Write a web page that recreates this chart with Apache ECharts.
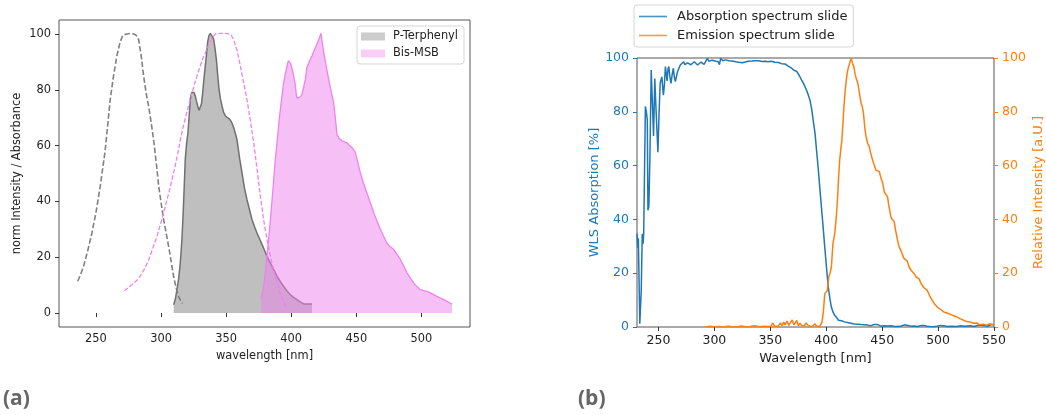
<!DOCTYPE html>
<html>
<head>
<meta charset="utf-8">
<script src="https://cdn.jsdelivr.net/npm/echarts@6/dist/echarts.min.js"></script>
<style>
html,body{margin:0;padding:0;background:#fff;}
#c{width:1046px;height:415px;}
</style>
</head>
<body>
<div id="c"></div>
<script>
// ---------- Panel (a) data ----------
const leftXTicks = [250, 300, 350, 400, 450, 500];
const leftYTicks = [0, 20, 40, 60, 80, 100];
const pTerphenylAbs = [[235.9,11.4],[238,13.5],[240.5,16.8],[243.5,22],[246.9,28.7],[250,36],[253.3,45.5],[257,58],[261,76.6],[263.5,85],[266,92],[268.5,97],[270.7,99.6],[273.8,100],[276.5,100.2],[279,100],[281,99.5],[282.8,98],[284.8,92],[286.6,85],[288.5,79],[290.5,74],[292.5,68],[294.3,62],[296.3,54],[298.2,45.5],[300.2,39],[302,33.5],[304,28.5],[305.8,24],[307.8,18.5],[309.7,13],[311.6,9],[313.5,6],[315,4.5],[316.6,3.4]];
const bisMsbAbs = [[271.8,8],[274.5,9],[277.7,10.2],[281,11.5],[284,13.2],[287.5,16],[290.5,19],[293.5,23],[296.9,27.5],[300,32.5],[303.3,38.3],[306.5,44],[309.7,50.3],[313,57.5],[316,64.7],[319.3,71],[322.5,76.6],[325.7,82],[328.9,86.8],[332,91],[335.3,94.6],[338.5,98],[341.7,100],[345.5,100.2],[349,100.2],[352,100],[354,99.5],[355.8,98],[358.5,94],[360.9,88.6],[363.5,82.5],[366,76.6],[368.6,69],[371.2,61],[373.8,51.5],[376.3,42],[378.8,33.5],[381.4,26.3],[383.3,22],[385.2,18],[387.2,14],[389.1,10.8],[391,7.8],[392.9,5.4],[395,3.3],[396.8,1.8]];
const pTerphenylEm = [[309.7,3],[311,5],[312.2,8.4],[313.6,12.5],[314.8,18],[316,26],[316.9,34.7],[317.8,45],[318.6,55],[319.6,60.5],[320.7,64.7],[321.6,70.5],[322.5,76.6],[323.5,79],[324.5,79.6],[325.4,79],[326.3,77.8],[327.2,76],[328.1,74.3],[329.2,72.7],[330.2,72.5],[331.1,75],[332,79],[333,84],[334,88.6],[335,93],[335.8,97],[336.8,99.4],[337.9,100.2],[339.2,99.5],[340.4,98.2],[341.4,95],[342.5,91],[343.4,86],[344.3,81.4],[345.5,77],[346.8,74.3],[348,72],[349.4,70.7],[351,70],[352.7,69.5],[354.3,68.3],[355.8,66.5],[357,64.5],[358.3,62.3],[360.2,56],[362.2,50.3],[364,45],[366,40.7],[368,37],[369.9,33.5],[371.8,31],[373.7,28.7],[375.6,26.7],[377.6,24.6],[379.5,22.5],[381.4,20.4],[383.3,18.5],[385.2,16.8],[387.2,15],[389.1,13.2],[391.6,11.3],[394.2,9.6],[396.7,8],[399.3,6.6],[401.9,5.6],[404.5,4.8],[406.4,4.2],[408.3,3.6],[410.2,3.2],[412.1,3.2],[414,3.2],[416,3.2]];
const bisMsbEm = [[376.8,5.4],[378,7],[378.8,9.6],[380,14],[381.4,20.4],[383,28],[384.5,36],[386.2,45.5],[387.8,55],[389.5,63],[391.1,70.7],[392.9,77.8],[394.2,82.6],[395.2,85],[396.3,87.4],[397.2,89.5],[398,90.4],[398.9,90],[399.8,89.2],[400.9,87],[401.9,85],[403.1,82],[404,77.8],[404.8,77],[405.7,76.6],[407,77.5],[408.3,78.4],[409.6,81],[410.9,83.8],[412.1,88],[414,90.2],[416,92.2],[417.9,94.3],[419.8,96.4],[421.4,98.3],[422.9,100.2],[424,96.5],[425,93.4],[426.9,88.5],[428.8,83.8],[430.7,79.5],[432.6,75.4],[433.9,70],[435.2,64],[437,62.5],[439,61.7],[441,61.3],[442.9,61],[444.8,60],[446.7,59.3],[448,58.5],[449.3,57.5],[451.2,54],[453.1,50.3],[455.6,46.5],[458.2,43],[460.8,39.5],[463.4,36],[465.9,33],[468.5,30],[471,27.5],[473.6,25],[476.2,23.8],[478.7,22.8],[481.3,21],[483.9,19.2],[486.5,16.8],[489,14.4],[491.5,12.6],[494.1,10.8],[496.7,9.4],[499.2,8.4],[501.8,8],[504.4,7.8],[507,7.2],[509.5,6.6],[512,6],[514.6,5.4],[517.2,4.8],[519.7,4.2],[521.7,3.7],[523.6,3.2]];

// ---------- Panel (b) data ----------
const rightXTicks = [250, 300, 350, 400, 450, 500, 550];
const absorptionSlide = [[230.8,34.7],[231.5,29.5],[232,33],[232.6,33.5],[233.3,1.2],[234.6,13.6],[235.5,34.7],[236.3,31],[236.8,35],[238.3,82],[239.2,80],[240,77],[240.6,43.4],[241.4,44.7],[242.3,62],[243.5,95.5],[244.5,84],[245.6,71],[246.7,92.4],[247.9,80],[249.5,65],[250.5,79],[251.5,90.6],[253,93],[254.4,86.2],[255.3,90],[256.2,96.8],[257,94],[257.7,91.5],[258.5,96],[259.2,96.8],[260.2,93],[261.2,90.6],[262.3,94],[263.3,96.2],[264.2,93],[265.1,91.2],[266,93],[267.1,95],[268.3,96.2],[269.5,97.4],[271,97],[272.5,98.6],[273.5,97.5],[274.5,97.4],[276,98.2],[277.5,98.6],[279,97.5],[280.4,97.6],[282,98.6],[283.4,98.3],[285,97.4],[286.4,97.8],[288,98.5],[289.3,98.6],[290.8,97.6],[292.3,98],[293.7,99.9],[295,98.8],[296.7,98.3],[298,99.2],[299.7,99.5],[301.5,98.8],[303.5,98.6],[304.5,97.5],[305.6,99.9],[307.5,99],[310,99.3],[313,99],[315.9,98.9],[319,98.6],[321.8,98.4],[325,98.2],[327.7,98.5],[330,98.8],[333.7,98.9],[336,99],[339.6,99],[342.5,98.7],[345.5,98.8],[348,98.6],[351.4,98.8],[354,98.4],[357.3,98.3],[360,97.9],[363.2,97.8],[366,97],[369.1,96.2],[371,95.5],[373.6,95],[376,93.4],[378,91.8],[380,90.3],[382.4,88],[384,86.2],[385.4,84.4],[387,81],[388.3,77],[390,72],[391.3,65.8],[392.8,59],[394.2,52],[395.7,44.5],[397.2,37.2],[398.7,29.6],[400.2,22.3],[401.2,17.5],[402.2,13.6],[403.4,10.2],[404.6,7.4],[406,5.6],[407.6,4.3],[409.5,3.4],[411,2.5],[412,2.6],[413.5,2.3],[415,3],[416.4,1.9],[418,1.8],[420.9,1.5],[423,1.3],[425,1.1],[428.2,1],[431,0.9],[434,0.8],[437.1,0.7],[440,0.5],[443,0.9],[446,0.9],[449,0.3],[452,0.5],[454.8,0.4],[458,0.5],[461,0.2],[463.7,0.2],[467,0.4],[470,0.8],[471.1,1.2],[473,0.6],[476,0.3],[478.5,0.4],[482,0.2],[485,0.6],[487.4,0.6],[490,0.3],[493,0.2],[496.2,0.1],[499,0.3],[502,0.6],[505.1,0.5],[508,0.2],[512,0.3],[516.9,0.2],[520,0.5],[524,0.3],[528.7,0.5],[532,0.2],[536,0.7],[540.6,0.6],[544,0.3],[547,0.8],[549.4,0.9]];
const emissionSlide = [[292.3,0],[296,0.3],[300,0.1],[304,0.2],[308,0],[312,0.3],[316,0.1],[320,0],[324,0.4],[328,0.1],[332,0.2],[336,0.5],[340,0.1],[344,0.3],[348,0.2],[350.5,0.3],[352.3,1.5],[353.5,0.4],[355,1],[357,0.2],[359,1.5],[360.5,0.5],[362,1.8],[363.2,0.8],[365,2.2],[366.5,0.6],[368,1.6],[369.5,2.6],[371,0.8],[372.5,1.2],[373.6,2.4],[375,0.5],[376.5,1.4],[378,0.6],[380,0.3],[382,1.5],[383.9,0.6],[386,0.2],[388,0.4],[389.8,1.2],[391.5,0.3],[394.2,0.2],[396.3,1.9],[397.5,6],[398.7,12.4],[400,13],[401,13.6],[402.2,18.6],[403.4,20],[404.6,22.3],[406,31],[407.6,34.7],[409,41],[410,47],[411,55],[412,62],[413,66],[414,69.5],[415,76],[415.8,81.9],[417,88],[417.9,91.8],[419,95],[420,96.8],[421,96.5],[422.3,99.9],[423.5,98],[424.7,96.8],[425.8,94],[426.8,92.4],[428,91],[428.8,89.3],[430,86],[431.2,83.1],[432.2,82],[433.3,79.4],[434.5,74],[435.6,70.7],[437.1,68.2],[438,67.5],[438.6,67],[439.5,65],[440.7,64.5],[441.5,62],[442.4,60.8],[443.5,61.5],[444.5,58.3],[446,58],[447.5,57.7],[448.5,56],[449.5,54.6],[450.5,53.5],[451.9,50.2],[453,49.5],[454.8,48.4],[456,45],[457.8,40.9],[459,40],[460.8,39.1],[462,36],[463.7,32.3],[465,30],[466.7,28.5],[468,27],[469.5,25.5],[471.1,24.8],[472.5,24.5],[474.1,22.3],[476,21],[478.5,19.9],[480.5,18.5],[482.9,18],[485,16],[487.4,14.6],[490.3,13.6],[492.5,11.6],[494.8,9.9],[497,8.5],[499.2,7.4],[502,6.6],[505.1,5.6],[508,5.2],[511,4.7],[514,4.2],[516.9,3.7],[520,3],[522.8,2.5],[525.5,2],[528.7,1.9],[531.5,1.4],[534.7,1.5],[537,0.8],[540.6,1],[543,0.7],[546.5,1.2],[548,0.5],[550,0.6]];

const FONT = 'DejaVu Sans';
const BLUE = '#1f77b4', ORANGE = '#ff7f0e';
const LF = 11.4;   // panel (a) font size
const RF = 12.5;   // panel (b) tick font size
const RT = 13;     // panel (b) title/legend font size

const chart = echarts.init(document.getElementById('c'));
const option = {
  animation: false,
  backgroundColor: '#fff',
  textStyle: { fontFamily: FONT },
  grid: [
    { left: 59, top: 20, width: 411, height: 307, show: true, borderColor: '#555', borderWidth: 1, backgroundColor: 'transparent' },
    { left: 637, top: 58, width: 360, height: 269, show: true, borderColor: '#555', borderWidth: 1, backgroundColor: 'transparent' }
  ],
  xAxis: [
    { type: 'value', gridIndex: 0, min: 221.6, max: 537.4,
      axisLine: { show: false }, splitLine: { show: false },
      axisTick: { show: true, customValues: leftXTicks, length: 4, lineStyle: { color: '#333' } },
      axisLabel: { customValues: leftXTicks, fontSize: LF, color: '#222', margin: 7, fontFamily: FONT },
      name: 'wavelength [nm]', nameLocation: 'middle', nameGap: 24,
      nameTextStyle: { fontSize: LF, color: '#222', fontFamily: FONT } },
    { type: 'value', gridIndex: 1, min: 230.8, max: 550,
      axisLine: { show: false }, splitLine: { show: false },
      axisTick: { show: true, customValues: rightXTicks, length: 4, lineStyle: { color: '#333' } },
      axisLabel: { customValues: rightXTicks, fontSize: RF, color: '#222', margin: 7, fontFamily: FONT },
      name: 'Wavelength [nm]', nameLocation: 'middle', nameGap: 22,
      nameTextStyle: { fontSize: RT, color: '#222', fontFamily: FONT } }
  ],
  yAxis: [
    { type: 'value', gridIndex: 0, min: -5, max: 105,
      axisLine: { show: false }, splitLine: { show: false },
      axisTick: { show: true, customValues: leftYTicks, length: 4, lineStyle: { color: '#333' } },
      axisLabel: { customValues: leftYTicks, fontSize: LF, color: '#222', margin: 8, fontFamily: FONT },
      name: 'norm Intensity / Absorbance', nameLocation: 'middle', nameGap: 36,
      nameTextStyle: { fontSize: LF, color: '#222', fontFamily: FONT } },
    { type: 'value', gridIndex: 1, min: 0, max: 100, interval: 20, position: 'left',
      axisLine: { show: false }, splitLine: { show: false },
      axisTick: { show: true, length: 4, lineStyle: { color: BLUE } },
      axisLabel: { fontSize: RF, color: BLUE, margin: 8, fontFamily: FONT },
      name: 'WLS Absorption [%]', nameLocation: 'middle', nameGap: 36,
      nameTextStyle: { fontSize: RT, color: BLUE, fontFamily: FONT } },
    { type: 'value', gridIndex: 1, min: 0, max: 100, interval: 20, position: 'right',
      axisLine: { show: false }, splitLine: { show: false },
      axisTick: { show: true, length: 4, lineStyle: { color: ORANGE } },
      axisLabel: { fontSize: RF, color: ORANGE, margin: 8, fontFamily: FONT },
      name: 'Relative Intensity [a.U.]', nameLocation: 'middle', nameGap: 38,
      nameTextStyle: { fontSize: RT, color: ORANGE, fontFamily: FONT } }
  ],
  legend: [
    { orient: 'vertical', right: 582, top: 26, padding: [5, 6, 5, 4], itemGap: 6,
      itemWidth: 24, itemHeight: 8, borderColor: '#d5d5d5', borderWidth: 1, borderRadius: 3,
      backgroundColor: 'rgba(255,255,255,0.8)',
      textStyle: { fontSize: LF, color: '#222', fontFamily: FONT, padding: [0, 0, 0, 3] },
      data: [ { name: 'P-Terphenyl', icon: 'rect' }, { name: 'Bis-MSB', icon: 'rect' } ] },
    { orient: 'vertical', left: 634, top: 5, padding: [4, 6, 4, 5], itemGap: 4,
      itemWidth: 28, itemHeight: 1.6, borderColor: '#d5d5d5', borderWidth: 1, borderRadius: 3,
      backgroundColor: '#fff',
      textStyle: { fontSize: RT, color: '#222', fontFamily: FONT, padding: [0, 0, 0, 5], lineHeight: 15 },
      data: [ { name: 'Absorption spectrum slide', icon: 'rect' }, { name: 'Emission spectrum slide', icon: 'rect' } ] }
  ],
  graphic: [
    { type: 'text', left: 3, top: 389, style: { text: '(a)', font: 'bold 21px "Open Sans"', fill: '#666' } },
    { type: 'text', left: 578, top: 389, style: { text: '(b)', font: 'bold 21px "Open Sans"', fill: '#666' } }
  ],
  series: [
    // legend-only entries (no data)
    { name: 'P-Terphenyl', type: 'scatter', xAxisIndex: 0, yAxisIndex: 0, data: [], itemStyle: { color: '#bfbfbf' } },
    { name: 'Bis-MSB', type: 'scatter', xAxisIndex: 0, yAxisIndex: 0, data: [], itemStyle: { color: '#f6c0f6' } },
    { name: 'Absorption spectrum slide', type: 'scatter', xAxisIndex: 1, yAxisIndex: 1, data: [], itemStyle: { color: BLUE } },
    { name: 'Emission spectrum slide', type: 'scatter', xAxisIndex: 1, yAxisIndex: 2, data: [], itemStyle: { color: ORANGE } },
    // panel (a)
    { name: 'pTerEm', type: 'line', xAxisIndex: 0, yAxisIndex: 0, data: pTerphenylEm, symbol: 'none',
      lineStyle: { color: '#707070', width: 1.5 }, areaStyle: { color: '#808080', opacity: 0.5, origin: 'auto' }, z: 2 },
    { name: 'bisEm', type: 'line', xAxisIndex: 0, yAxisIndex: 0, data: bisMsbEm, symbol: 'none',
      lineStyle: { color: '#ee82ee', width: 1.3 }, areaStyle: { color: '#ee82ee', opacity: 0.5, origin: 'auto' }, z: 3 },
    { name: 'pTerAbs', type: 'line', xAxisIndex: 0, yAxisIndex: 0, data: pTerphenylAbs, symbol: 'none',
      lineStyle: { color: '#808080', width: 1.6, type: [5.5, 2.4] }, z: 4 },
    { name: 'bisAbs', type: 'line', xAxisIndex: 0, yAxisIndex: 0, data: bisMsbAbs, symbol: 'none',
      lineStyle: { color: '#ee82ee', width: 1.3, type: [4.5, 2] }, z: 4 },
    // panel (b)
    { name: 'absLine', type: 'line', xAxisIndex: 1, yAxisIndex: 1, data: absorptionSlide, symbol: 'none',
      lineStyle: { color: BLUE, width: 1.5 }, z: 3 },
    { name: 'emLine', type: 'line', xAxisIndex: 1, yAxisIndex: 2, data: emissionSlide, symbol: 'none',
      lineStyle: { color: ORANGE, width: 1.5 }, z: 3 }
  ]
};
chart.setOption(option);
</script>
</body>
</html>
